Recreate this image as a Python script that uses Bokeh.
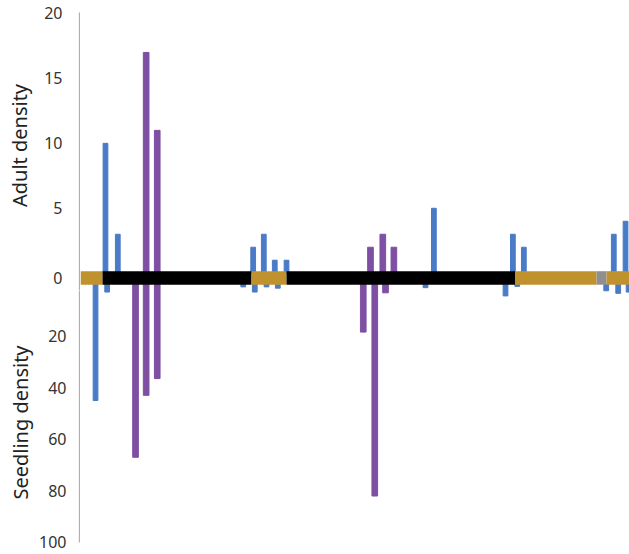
from bokeh.plotting import figure
from bokeh.layouts import column, row
from bokeh.models import Range1d, FixedTicker, ColumnDataSource, CustomJSTickFormatter
from bokeh.embed import file_html
from bokeh.resources import INLINE

# ---------------- data ----------------
# position along the transect (arbitrary units)
sp1_adult_pos = [2.21, 3.30, 15.28, 16.22, 17.19, 18.23, 31.27, 38.26, 39.23, 47.19, 48.23]
sp1_adult = [10, 3, 2, 3, 1, 1, 5, 3, 2, 3, 4]
sp1_seedling_pos = [1.33, 2.36, 14.40, 15.42, 16.46, 17.46, 30.53, 37.61, 38.65, 46.52, 47.58, 48.50]
sp1_seedling = [45, 3, 1, 3, 1, 1.5, 1.3, 4.5, 0.8, 2.5, 3.5, 3]

sp2_adult_pos = [5.81, 6.79, 25.66, 26.75, 27.73]
sp2_adult = [17, 11, 2, 3, 2]
sp2_seedling_pos = [4.87, 5.81, 6.79, 25.02, 26.04, 26.99]
sp2_seedling = [67, 43, 36.5, 18.5, 82, 3.3]

band_start = [0, 1.95, 15.13, 18.23, 38.45, 45.66, 46.55]
band_end = [1.95, 15.13, 18.23, 38.45, 45.66, 46.55, 48.58]
band_type = ["gap", "forest", "gap", "forest", "gap", "other", "gap"]

adult_ticks = [0, 5, 10, 15, 20]
seedling_ticks = [20, 40, 60, 80, 100]

# ---------------- styles / layout ----------------
BLUE = "#4a7bc6"
PURPLE = "#7e4fa3"
BAND_COLORS = {"gap": "#c0922e", "forest": "#000000", "other": "#8f8f8f"}
FONT = "Noto Sans"
AXW = 80            # width of the axis column
MAIN_W = 549
H = 554
H1, H2 = 290, 264   # heights of the two axis blocks
X_END = 48.58
ZERO_LABEL_POS = -0.408
BAND_TOP, BAND_BOTTOM = 0.154, -0.886
ADULT_MAIN = (-21.663, 21.001)
ADULT_AX = (-1.3323, 21.001)
SEED_MAIN = (104.648, -109.915)
SEED_AX = (104.648, 2.4012)

def blank(p):
    p.grid.visible = False
    p.outline_line_color = None

def style_axis(p, ticks, bounds, label, standoff, label_standoff):
    blank(p)
    ax = p.yaxis[0]
    ax.ticker = FixedTicker(ticks=ticks)
    ax.bounds = bounds
    ax.axis_line_color = "#b0b0b0"
    ax.axis_line_width = 1.3
    ax.major_tick_line_color = None
    ax.minor_tick_line_color = None
    ax.major_tick_out = 0
    ax.major_label_text_font = FONT
    ax.major_label_text_font_size = "16px"
    ax.major_label_text_color = "#333333"
    ax.major_label_standoff = standoff
    ax.axis_label = label
    ax.axis_label_text_font = FONT
    ax.axis_label_text_font_size = "20px"
    ax.axis_label_text_font_style = "normal"
    ax.axis_label_text_color = "#222222"
    ax.axis_label_standoff = label_standoff

common = dict(output_backend="svg", toolbar_location=None, x_axis_location=None,
              min_border_right=0, min_border_top=0, min_border_bottom=0)

# main plot area: all bars and the habitat band
main = figure(width=MAIN_W, height=H, x_range=Range1d(0, X_END), y_range=Range1d(*ADULT_MAIN),
              y_axis_location=None, min_border_left=0, **common)
main.extra_y_ranges = {"seedling": Range1d(*SEED_MAIN)}
blank(main)
main.vbar(x=sp1_adult_pos, top=sp1_adult, bottom=0, width=0.42, color=BLUE)
main.vbar(x=sp2_adult_pos, top=sp2_adult, bottom=0, width=0.5, color=PURPLE)
main.vbar(x=sp1_seedling_pos, top=sp1_seedling, bottom=0, width=0.42, color=BLUE,
          y_range_name="seedling")
main.vbar(x=sp2_seedling_pos, top=sp2_seedling, bottom=0, width=0.5, color=PURPLE,
          y_range_name="seedling")
band = ColumnDataSource(dict(left=band_start, right=band_end,
                             color=[BAND_COLORS[t] for t in band_type]))
main.quad(left="left", right="right", bottom=BAND_BOTTOM, top=BAND_TOP,
          fill_color="color", line_color=None, source=band)

# axis blocks
ax1 = figure(width=AXW, height=H1, x_range=Range1d(0, 1), y_range=Range1d(*ADULT_AX),
             min_border_left=AXW - 1, **common)
style_axis(ax1, [t if t else ZERO_LABEL_POS for t in adult_ticks], (ADULT_AX[0], 20.1),
           "Adult density", 17, 8)
ax1.yaxis[0].formatter = CustomJSTickFormatter(
    code="return tick < 1 ? '0' : String(Math.round(tick));")

ax2 = figure(width=AXW, height=H2, x_range=Range1d(0, 1), y_range=Range1d(*SEED_AX),
             min_border_left=AXW - 1, **common)
style_axis(ax2, seedling_ticks, (0, 100), "Seedling density", 13, 2)

layout = row(column(ax1, ax2, spacing=0), main, spacing=0)
open("out.html", "w").write(file_html(layout, INLINE))
